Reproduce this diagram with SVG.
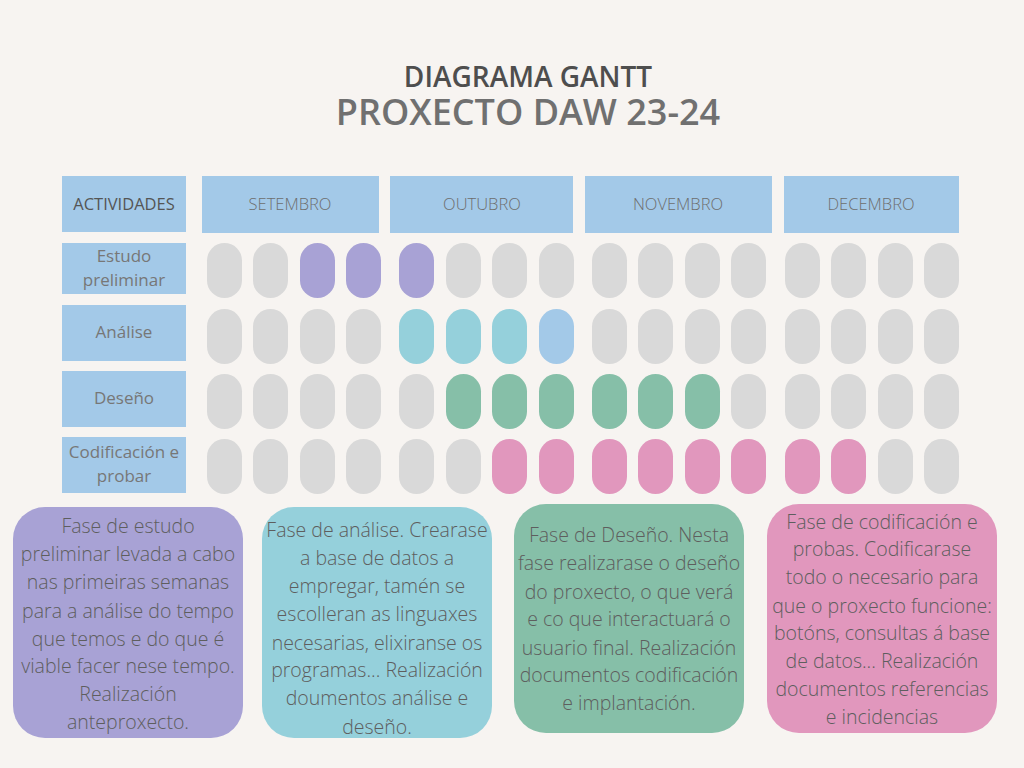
<svg xmlns="http://www.w3.org/2000/svg" width="1024" height="768" viewBox="0 0 1024 768">
<style>
.bg{fill:#F7F4F1}
.hdr{fill:#A3C9E8}
.p{width:35px;height:55px;rx:17.5px}
.g{fill:#D9D9D9}
.pu{fill:#A8A2D5}
.cy{fill:#95D0DB}
.lb{fill:#A3C9E8}
.gr{fill:#86BFA8}
.pk{fill:#E197BD}
.t1{font-family:"Open Sans","Noto Sans",sans-serif;font-weight:600;font-size:28px;fill:#4E4E4E;text-anchor:middle}
.t2{font-family:"Open Sans","Noto Sans",sans-serif;font-weight:600;font-size:36px;fill:#707070;text-anchor:middle}
.hl{font-family:"Open Sans","Noto Sans",sans-serif;font-size:16.5px;fill:#555;text-anchor:middle}
.ml{font-family:"Open Sans","Noto Sans",sans-serif;font-weight:300;font-size:16.5px;fill:#6E6E6E;text-anchor:middle}
.rl{font-family:"Open Sans","Noto Sans",sans-serif;font-size:17px;fill:#777;text-anchor:middle}
.bx{font-family:"Open Sans","Noto Sans",sans-serif;font-weight:300;font-size:19.5px;fill:#5E5E5E;text-anchor:middle}
</style>
<rect class="bg" x="0" y="0" width="1024" height="768"/>
<g id="title">
<text class="t1" x="528" y="87">DIAGRAMA GANTT</text>
<text class="t2" x="528" y="125">PROXECTO DAW 23-24</text>
</g>
<g id="header">
<rect class="hdr" x="62" y="176" width="124" height="56"/>
<text class="hl" x="124" y="210">ACTIVIDADES</text>
<rect class="hdr" x="202" y="176" width="177" height="57"/>
<text class="ml" x="290" y="210">SETEMBRO</text>
<rect class="hdr" x="390" y="176" width="183" height="57"/>
<text class="ml" x="482" y="210">OUTUBRO</text>
<rect class="hdr" x="585" y="176" width="187" height="57"/>
<text class="ml" x="678" y="210">NOVEMBRO</text>
<rect class="hdr" x="784" y="176" width="175" height="57"/>
<text class="ml" x="871" y="210">DECEMBRO</text>
</g>
<g id="row-estudo">
<rect class="hdr" x="62" y="243" width="124" height="51"/>
<text class="rl" x="124" y="262">Estudo</text>
<text class="rl" x="124" y="286">preliminar</text>
<rect class="p g" x="207" y="243"/><rect class="p g" x="253" y="243"/><rect class="p pu" x="300" y="243"/><rect class="p pu" x="346" y="243"/>
<rect class="p pu" x="399" y="243"/><rect class="p g" x="446" y="243"/><rect class="p g" x="492" y="243"/><rect class="p g" x="539" y="243"/>
<rect class="p g" x="592" y="243"/><rect class="p g" x="638" y="243"/><rect class="p g" x="685" y="243"/><rect class="p g" x="731" y="243"/>
<rect class="p g" x="785" y="243"/><rect class="p g" x="831" y="243"/><rect class="p g" x="878" y="243"/><rect class="p g" x="924" y="243"/>
</g>
<g id="row-analise">
<rect class="hdr" x="62" y="305" width="124" height="56"/>
<text class="rl" x="124" y="338">Análise</text>
<rect class="p g" x="207" y="309"/><rect class="p g" x="253" y="309"/><rect class="p g" x="300" y="309"/><rect class="p g" x="346" y="309"/>
<rect class="p cy" x="399" y="309"/><rect class="p cy" x="446" y="309"/><rect class="p cy" x="492" y="309"/><rect class="p lb" x="539" y="309"/>
<rect class="p g" x="592" y="309"/><rect class="p g" x="638" y="309"/><rect class="p g" x="685" y="309"/><rect class="p g" x="731" y="309"/>
<rect class="p g" x="785" y="309"/><rect class="p g" x="831" y="309"/><rect class="p g" x="878" y="309"/><rect class="p g" x="924" y="309"/>
</g>
<g id="row-deseno">
<rect class="hdr" x="62" y="371" width="124" height="56"/>
<text class="rl" x="124" y="404">Deseño</text>
<rect class="p g" x="207" y="374"/><rect class="p g" x="253" y="374"/><rect class="p g" x="300" y="374"/><rect class="p g" x="346" y="374"/>
<rect class="p g" x="399" y="374"/><rect class="p gr" x="446" y="374"/><rect class="p gr" x="492" y="374"/><rect class="p gr" x="539" y="374"/>
<rect class="p gr" x="592" y="374"/><rect class="p gr" x="638" y="374"/><rect class="p gr" x="685" y="374"/><rect class="p g" x="731" y="374"/>
<rect class="p g" x="785" y="374"/><rect class="p g" x="831" y="374"/><rect class="p g" x="878" y="374"/><rect class="p g" x="924" y="374"/>
</g>
<g id="row-codificacion">
<rect class="hdr" x="62" y="437" width="124" height="56"/>
<text class="rl" x="124" y="458">Codificación e</text>
<text class="rl" x="124" y="482">probar</text>
<rect class="p g" x="207" y="439"/><rect class="p g" x="253" y="439"/><rect class="p g" x="300" y="439"/><rect class="p g" x="346" y="439"/>
<rect class="p g" x="399" y="439"/><rect class="p g" x="446" y="439"/><rect class="p pk" x="492" y="439"/><rect class="p pk" x="539" y="439"/>
<rect class="p pk" x="592" y="439"/><rect class="p pk" x="638" y="439"/><rect class="p pk" x="685" y="439"/><rect class="p pk" x="731" y="439"/>
<rect class="p pk" x="785" y="439"/><rect class="p pk" x="831" y="439"/><rect class="p g" x="878" y="439"/><rect class="p g" x="924" y="439"/>
</g>
<g id="note-estudo">
<rect class="pu" x="13" y="507" width="230" height="231" rx="32"/>
<text class="bx" x="128" y="533">Fase de estudo</text>
<text class="bx" x="128" y="561">preliminar levada a cabo</text>
<text class="bx" x="128" y="589">nas primeiras semanas</text>
<text class="bx" x="128" y="618">para a análise do tempo</text>
<text class="bx" x="128" y="646">que temos e do que é</text>
<text class="bx" x="128" y="673">viable facer nese tempo.</text>
<text class="bx" x="128" y="701">Realización</text>
<text class="bx" x="128" y="729">anteproxecto.</text>
</g>
<g id="note-analise">
<rect class="cy" x="262" y="507" width="230" height="231" rx="32"/>
<text class="bx" x="377" y="537">Fase de análise. Crearase</text>
<text class="bx" x="377" y="565">a base de datos a</text>
<text class="bx" x="377" y="593">empregar, tamén se</text>
<text class="bx" x="377" y="621">escolleran as linguaxes</text>
<text class="bx" x="377" y="650">necesarias, elixiranse os</text>
<text class="bx" x="377" y="677">programas... Realización</text>
<text class="bx" x="377" y="705">doumentos análise e</text>
<text class="bx" x="377" y="734">deseño.</text>
</g>
<g id="note-deseno">
<rect class="gr" x="514" y="504" width="230" height="229" rx="32"/>
<text class="bx" x="629" y="542">Fase de Deseño. Nesta</text>
<text class="bx" x="629" y="570">fase realizarase o deseño</text>
<text class="bx" x="629" y="599">do proxecto, o que verá</text>
<text class="bx" x="629" y="626">e co que interactuará o</text>
<text class="bx" x="629" y="655">usuario final. Realización</text>
<text class="bx" x="629" y="682">documentos codificación</text>
<text class="bx" x="629" y="710">e implantación.</text>
</g>
<g id="note-codificacion">
<rect class="pk" x="767" y="504" width="230" height="229" rx="32"/>
<text class="bx" x="882" y="529">Fase de codificación e</text>
<text class="bx" x="882" y="556">probas. Codificarase</text>
<text class="bx" x="882" y="584">todo o necesario para</text>
<text class="bx" x="882" y="613">que o proxecto funcione:</text>
<text class="bx" x="882" y="640">botóns, consultas á base</text>
<text class="bx" x="882" y="668">de datos... Realización</text>
<text class="bx" x="882" y="696">documentos referencias</text>
<text class="bx" x="882" y="724">e incidencias</text>
</g>
<g id="connectors"/>
</svg>
